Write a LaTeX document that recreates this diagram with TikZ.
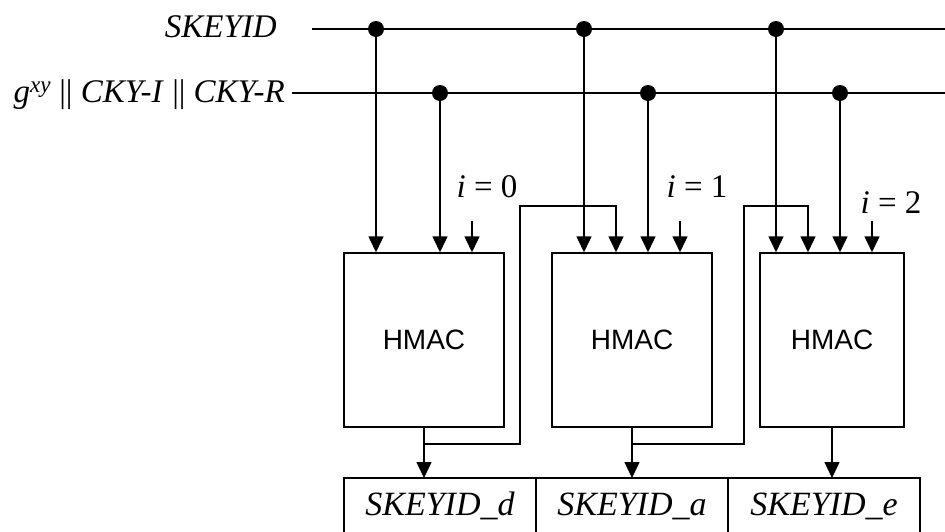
\documentclass[tikz,border=0pt]{standalone}
\usepackage{fontspec}
\setmainfont{Liberation Serif}
\newfontfamily\hmacfont{Liberation Sans}
\usetikzlibrary{arrows.meta,positioning}

\tikzset{
  wire/.style={line width=1.5pt},
  flow/.style={wire, -{Triangle[length=16pt,width=15pt]}},
  tap/.style={circle, fill, inner sep=0pt, minimum size=16pt},
  hmacbox/.style={draw, line width=1.5pt, minimum height=174pt, font=\hmacfont\fontsize{28}{33}\selectfont},
  cell/.style={draw, line width=1.5pt, minimum width=192pt, minimum height=56pt, outer sep=0pt, font=\itshape\fontsize{34}{40}\selectfont},
  lbl/.style={inner sep=0pt, font=\fontsize{33}{40}\selectfont}
}

\begin{document}
\begin{tikzpicture}[x=1pt, y=-1pt]
            \useasboundingbox (0,0) rectangle (945,531);
            \node [lbl, anchor=base east] (skeyid) at (277,37) {\itshape SKEYID};
            \node [lbl, anchor=base east] (gxy) at (285,102) {\itshape g\textsuperscript{xy} \textup{||} CKY-I \textup{||} CKY-R};
            \coordinate (sk0) at (312,29);
            \coordinate (sk9) at (945,29);
            \coordinate (g0) at (292,93);
            \coordinate (g9) at (945,93);
            \draw [wire] (sk0) -- (sk9);
            \draw [wire] (g0) -- (g9);
            \node [tap] (s1) at (376,29) {};
            \node [tap] (s2) at (584,29) {};
            \node [tap] (s3) at (776,29) {};
            \node [tap] (t1) at (440,93) {};
            \node [tap] (t2) at (648,93) {};
            \node [tap] (t3) at (840,93) {};
            \node [hmacbox, minimum width=160pt] (h1) at (424,340) {HMAC};
            \node [hmacbox, minimum width=160pt] (h2) at (632,340) {HMAC};
            \node [hmacbox, minimum width=144pt] (h3) at (832,340) {HMAC};
            \node [cell] (outd) at (440,506) {SKEYID\_d};
            \node [cell, right = 0pt of outd] (outa) {SKEYID\_a};
            \node [cell, right = 0pt of outa] (oute) {SKEYID\_e};
            \draw [flow] (s1) -- (s1 |- h1.north);
            \draw [flow] (s2) -- (s2 |- h2.north);
            \draw [flow] (s3) -- (s3 |- h3.north);
            \draw [flow] (t1) -- (t1 |- h1.north);
            \draw [flow] (t2) -- (t2 |- h2.north);
            \draw [flow] (t3) -- (t3 |- h3.north);
            \node [lbl, anchor=base] (li0) at (487,197) {\textit{i} = 0};
            \node [lbl, anchor=base] (li1) at (697,197) {\textit{i} = 1};
            \node [lbl, anchor=base] (li2) at (891,213) {\textit{i} = 2};
            \coordinate (i0) at (472,221);
            \coordinate (i1) at (680,221);
            \coordinate (i2) at (872,221);
            \draw [flow] (i0) -- (i0 |- h1.north);
            \draw [flow] (i1) -- (i1 |- h2.north);
            \draw [flow] (i2) -- (i2 |- h3.north);
            \draw [flow] (h1.south) -- (h1.south |- outd.north);
            \draw [flow] (h2.south) -- (h2.south |- outa.north);
            \draw [flow] (h3.south) -- (h3.south |- oute.north);
            \coordinate (fb1) at (424,444);
            \coordinate (fc1) at (520,206);
            \coordinate (fd1) at (616,206);
            \coordinate (fb2) at (632,444);
            \coordinate (fc2) at (744,206);
            \coordinate (fd2) at (808,206);
            \draw [flow] (fb1) -| (fc1) -- (fd1) -- (fd1 |- h2.north);
            \draw [flow] (fb2) -| (fc2) -- (fd2) -- (fd2 |- h3.north);
\end{tikzpicture}
\end{document}
